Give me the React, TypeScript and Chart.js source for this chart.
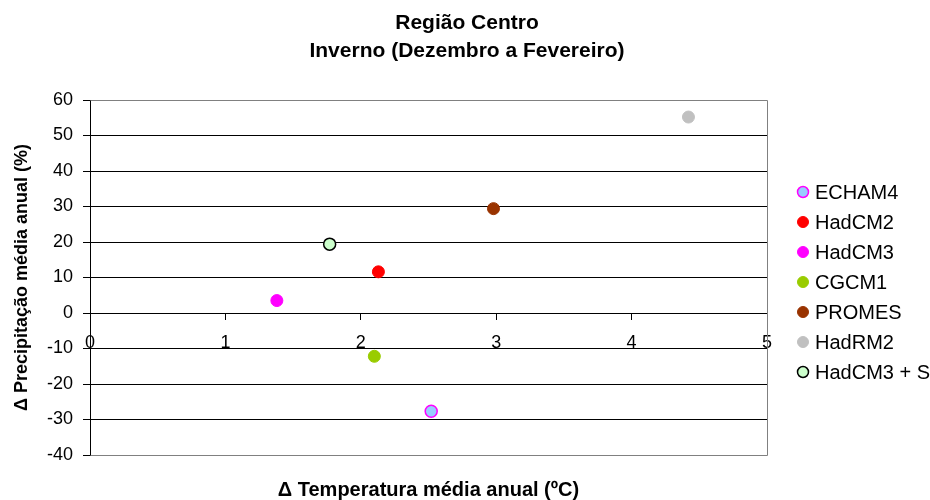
import React, { useEffect, useRef } from "react";
import { Chart, registerables } from "chart.js";

Chart.register(...registerables);

const models = ["ECHAM4", "HadCM2", "HadCM3", "CGCM1", "PROMES", "HadRM2", "HadCM3 + S"];
const tempChange = [2.52, 2.13, 1.38, 2.1, 2.98, 4.42, 1.77];
const precipChange = [-27.7, 11.6, 3.5, -12.2, 29.4, 55.2, 19.4];
const fillColors = ["#99CCFF", "#FF0000", "#FF00FF", "#99CC00", "#993300", "#C0C0C0", "#CCFFCC"];
const edgeColors = ["#FF00FF", "#FF0000", "#FF00FF", "#99CC00", "#993300", "#C0C0C0", "#000000"];
const edgeWidths = [1.5, 1, 1, 1, 1, 1, 1.5];

const titleLines = ["Região Centro", "Inverno (Dezembro a Fevereiro)"];
const xTitle = "Δ Temperatura média anual (ºC)";
const yTitle = "Δ Precipitação média anual (%)";
const xMin = 0, xMax = 5, xStep = 1;
const yMin = -40, yMax = 60, yStep = 10;

const FONT = "'Liberation Sans', Arial, Helvetica, sans-serif";

const extrasPlugin = {
  id: "extras",
  beforeDatasetsDraw(chart: any) {
    const { ctx, chartArea } = chart;
    const { left, right, top, bottom } = chartArea;
    const a = (v: number) => Math.round(v - 0.5) + 0.5;
    ctx.save();
    ctx.strokeStyle = "#808080";
    ctx.lineWidth = 1;
    ctx.beginPath();
    ctx.moveTo(a(left), a(top));
    ctx.lineTo(a(right), a(top));
    ctx.lineTo(a(right), a(bottom));
    ctx.lineTo(a(left), a(bottom));
    ctx.stroke();
    ctx.restore();
  },
  afterDraw(chart: any) {
    const { ctx, chartArea, width } = chart;
    const { left, right, top, bottom } = chartArea;
    ctx.save();
    ctx.fillStyle = "#000";
    // chart title
    ctx.font = `bold 21px ${FONT}`;
    ctx.textAlign = "center";
    ctx.textBaseline = "middle";
    titleLines.forEach((t, i) => ctx.fillText(t, width / 2 + 2, 23 + i * 28));
    // x axis title
    ctx.font = `bold 20px ${FONT}`;
    ctx.fillText(xTitle, (left + right) / 2, bottom + 35);
    // legend
    ctx.font = `20px ${FONT}`;
    ctx.textAlign = "left";
    chart.data.datasets.forEach((ds: any, i: number) => {
      const y = top + 92 + i * 30;
      const x = right + 36;
      ctx.beginPath();
      ctx.arc(x, y, 5.5, 0, Math.PI * 2);
      ctx.fillStyle = ds.pointBackgroundColor;
      ctx.fill();
      ctx.lineWidth = ds.pointBorderWidth;
      ctx.strokeStyle = ds.pointBorderColor;
      ctx.stroke();
      ctx.fillStyle = "#000";
      ctx.fillText(ds.label, right + 48, y + 1);
    });
    ctx.restore();
  },
};

export default function App() {
  const ref = useRef<HTMLCanvasElement | null>(null);

  useEffect(() => {
    if (!ref.current) return;
    const datasets = models.map((m, i) => ({
      label: m,
      data: [{ x: tempChange[i], y: precipChange[i] }],
      pointRadius: 6,
      pointBackgroundColor: fillColors[i],
      pointBorderColor: edgeColors[i],
      pointBorderWidth: edgeWidths[i],
      backgroundColor: fillColors[i],
      borderColor: edgeColors[i],
      showLine: false,
    }));
    const chart = new Chart(ref.current, {
      type: "scatter",
      data: { datasets },
      options: {
        responsive: false,
        animation: false,
        devicePixelRatio: 1,
        layout: { padding: { left: 0, right: 163, top: 100, bottom: 45 } },
        plugins: {
          legend: { display: false },
          tooltip: { enabled: false },
          title: { display: false },
        },
        scales: {
          x: {
            type: "linear",
            position: { y: 0 } as any,
            min: xMin,
            max: xMax,
            ticks: {
              stepSize: xStep,
              autoSkip: false,
              maxRotation: 0,
              color: "#000",
              font: { family: FONT, size: 18 },
              padding: 13,
            },
            grid: { drawOnChartArea: false, drawTicks: true, tickLength: 6, color: "#000", tickColor: "#000" },
            border: { color: "#000", width: 1 },
          },
          y: {
            type: "linear",
            position: "left",
            min: yMin,
            max: yMax,
            ticks: {
              stepSize: yStep,
              autoSkip: false,
              color: "#000",
              font: { family: FONT, size: 18 },
              padding: 10,
            },
            grid: {
              color: (c: any) => (c.tick && (c.tick.value === yMax || c.tick.value === yMin) ? "#808080" : "#000"),
              tickColor: "#000",
              tickLength: 7,
            },
            border: { color: "#000", width: 1 },
            title: {
              display: true,
              text: yTitle,
              color: "#000",
              font: { family: FONT, size: 18, weight: "bold" },
              padding: { top: 11, bottom: 0 },
            },
            afterFit: (s: any) => {
              s.width = 90;
            },
          },
        },
      },
      plugins: [extrasPlugin],
    });
    return () => chart.destroy();
  }, []);

  return (
    <div style={{ position: "fixed", left: 0, top: 0, width: 930, height: 500, background: "#fff" }}>
      <canvas ref={ref} width={930} height={500} style={{ display: "block", width: 930, height: 500 }} />
    </div>
  );
}
